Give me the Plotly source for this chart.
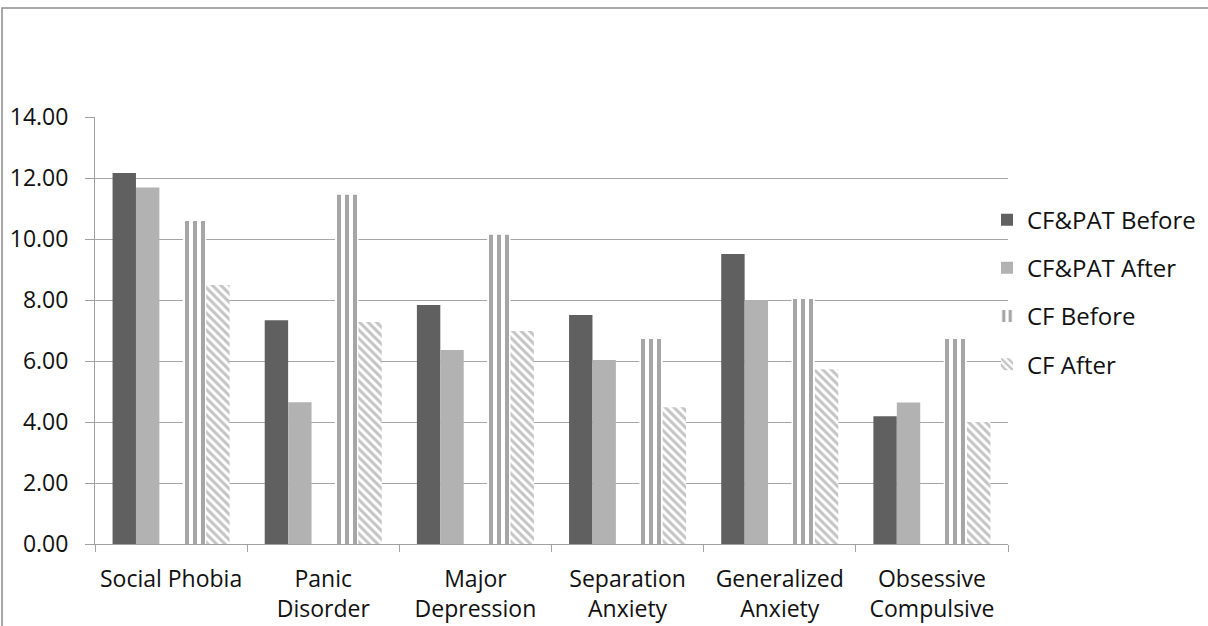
import plotly.graph_objects as go

# Disorder categories (two-line tick labels)
categories = [
    "Social Phobia",
    "Panic<br>Disorder",
    "Major<br>Depression",
    "Separation<br>Anxiety",
    "Generalized<br>Anxiety",
    "Obsessive<br>Compulsive",
]

# Mean scores per group and time point
cfpat_before = [12.16, 7.34, 7.84, 7.51, 9.51, 4.19]
cfpat_after = [11.69, 4.65, 6.36, 6.03, 8.00, 4.64]
cf_before = [10.59, 11.45, 10.14, 6.72, 8.03, 6.72]
cf_after = [8.49, 7.28, 6.98, 4.48, 5.73, 4.00]

y_ticks = [0, 2, 4, 6, 8, 10, 12, 14]

FONT = "Open Sans"
W, H = 1208, 626
ML, MR, MT, MB = 95, 200, 117, 82

# Five slots per category (the middle slot left empty), 150% gap width
slot = 1.0 / (5 + 1.5)
start = -0.5 + 0.75 * slot


def slot_offset(i):
    return start + i * slot


fig = go.Figure()

fig.add_trace(go.Bar(
    name="CF&PAT Before", x=categories, y=cfpat_before,
    marker=dict(color="#606060", line=dict(width=0)),
    width=slot, offset=slot_offset(0), legendgroup="a",
))
fig.add_trace(go.Bar(
    name="CF&PAT After", x=categories, y=cfpat_after,
    marker=dict(color="#b2b2b2", line=dict(width=0)),
    width=slot, offset=slot_offset(1), legendgroup="b",
))
fig.add_trace(go.Bar(
    name="CF Before", x=categories, y=cf_before,
    marker=dict(
        color="#ffffff", line=dict(width=0),
        pattern=dict(shape="|", fgcolor="#a6a6a6", bgcolor="#ffffff",
                     size=8, solidity=0.5, fillmode="replace"),
    ),
    width=slot, offset=slot_offset(3), legendgroup="c",
))
fig.add_trace(go.Bar(
    name="CF After", x=categories, y=cf_after,
    marker=dict(
        color="#ffffff", line=dict(width=0),
        pattern=dict(shape="\\", fgcolor="#c4c4c4", bgcolor="#ffffff",
                     size=6, solidity=0.5, fillmode="replace"),
    ),
    width=slot, offset=slot_offset(4), legendgroup="d",
))

plot_h = H - MT - MB
plot_w = W - ML - MR

fig.update_layout(
    width=W, height=H,
    margin=dict(l=ML, r=MR, t=MT, b=MB, pad=0, autoexpand=False),
    paper_bgcolor="#ffffff",
    plot_bgcolor="#ffffff",
    font=dict(family=FONT, size=23, color="#111111"),
    barmode="overlay",
    showlegend=True,
    legend=dict(
        x=(987 - ML) / plot_w, xanchor="left", y=0.59, yanchor="middle",
        font=dict(family=FONT, size=24, color="#111111"),
        traceorder="grouped", tracegroupgap=14,
        bgcolor="rgba(0,0,0,0)", itemwidth=30,
    ),
    xaxis=dict(
        type="category",
        showgrid=False,
        showline=True, linecolor="#a0a0a0", linewidth=1,
        ticks="outside", tickson="boundaries", ticklen=7,
        tickcolor="#a0a0a0", tickwidth=1,
        tickfont=dict(family=FONT, size=23, color="#111111"),
        ticklabelstandoff=14,
        range=[-0.5, len(categories) - 0.5],
    ),
    yaxis=dict(
        range=[0, 14],
        tickvals=y_ticks,
        tickformat=".2f",
        showgrid=True, gridcolor="#a6a6a6", gridwidth=1,
        showline=True, linecolor="#a0a0a0", linewidth=1,
        ticks="outside", ticklen=9, tickcolor="#a0a0a0", tickwidth=1,
        tickfont=dict(family=FONT, size=23, color="#111111"),
        zeroline=False,
        ticklabelstandoff=12,
    ),
    shapes=[
        # outer chart frame (top and left edges visible)
        dict(type="rect", xref="paper", yref="paper",
             x0=(2 - ML) / plot_w, x1=(W + 20 - ML) / plot_w,
             y0=-(MB + 20) / plot_h, y1=(plot_h + MT - 8) / plot_h,
             line=dict(color="#8c8c8c", width=1.5), layer="below"),
    ],
)

fig.write_html("out.html")
